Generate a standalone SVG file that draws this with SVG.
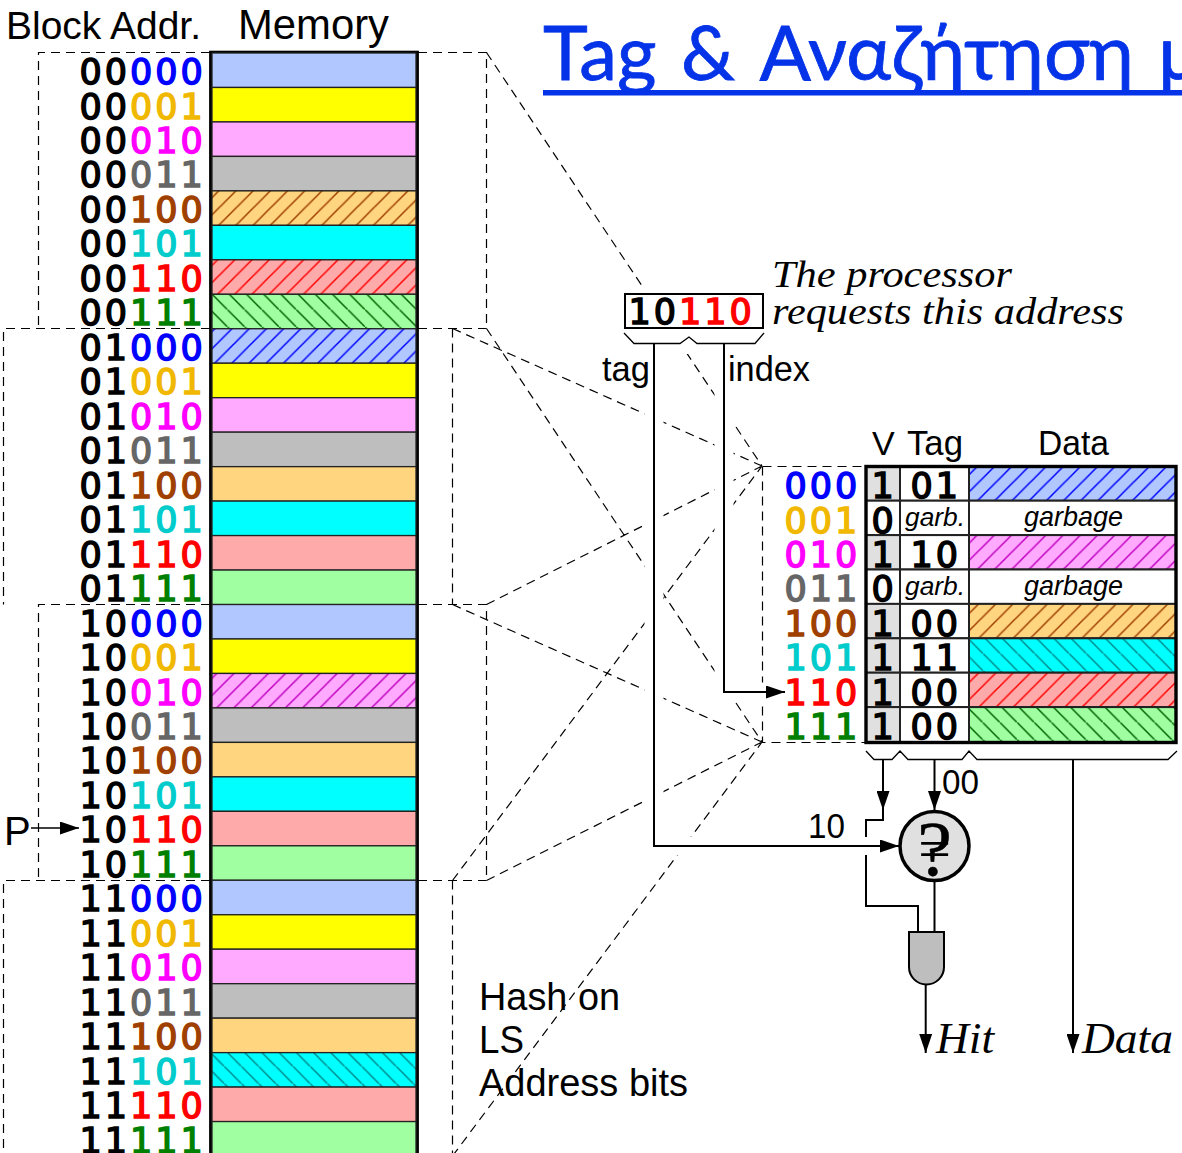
<svg xmlns="http://www.w3.org/2000/svg" width="1182" height="1153" viewBox="0 0 1182 1153">
<style>
.d{fill:none;stroke:#000;stroke-width:1.2;stroke-dasharray:9 6}
.h{fill:none;stroke:#fff;stroke-width:19}
.w{fill:none;stroke:#000;stroke-width:2}
.t{fill:none;stroke:#000;stroke-width:1.3}
.m{font-family:"DejaVu Sans",sans-serif;font-size:35px;letter-spacing:3px;fill:#000;stroke:#000;stroke-width:1.5px}
.s{font-family:"Liberation Sans",Arial,sans-serif;fill:#000}
.i{font-family:"Liberation Serif","Times New Roman",serif;font-style:italic;fill:#000}
.g{font-family:"Liberation Sans",Arial,sans-serif;font-style:italic;fill:#000}
.r{stroke:#222;stroke-width:1.3}
.q{stroke:#222;stroke-width:2}
.c0{fill:#00f;stroke:#00f}.c1{fill:#f0b800;stroke:#f0b800}.c2{fill:#f0f;stroke:#f0f}.c3{fill:#666;stroke:#666}.c4{fill:#a04000;stroke:#a04000}.c5{fill:#0cc;stroke:#0cc}.c6{fill:#f00;stroke:#f00}.c7{fill:#008000;stroke:#008000}
.f0{fill:#b0c8ff}.f1{fill:#ff0}.f2{fill:#faf}.f3{fill:#bebebe}.f4{fill:#ffd580}.f5{fill:#0ff}.f6{fill:#faa}.f7{fill:#a0ffa0}
</style>
<defs>
<marker id="a" markerUnits="userSpaceOnUse" markerWidth="19" markerHeight="13" refX="19" refY="6.5" orient="auto"><path d="M0 0L19 6.5L0 13Z" fill="#000"/></marker>
<path id="fw" d="M-1 1L1 -1M0 17.2L17.2 0M16.2 18.2L18.2 16.2"/>
<path id="bw" d="M-1 -1L1 1M0 0L17.2 17.2M16.2 16.2L18.2 18.2"/>
<pattern id="mo" patternUnits="userSpaceOnUse" width="17.2" height="17.2" patternTransform="translate(14 0)"><rect width="18" height="18" fill="#ffd580"/><use href="#fw" stroke="#a04000" stroke-width="1.5"/></pattern>
<pattern id="mr" patternUnits="userSpaceOnUse" width="17.2" height="17.2" patternTransform="translate(13 0)"><rect width="18" height="18" fill="#faa"/><use href="#fw" stroke="#f00" stroke-width="1.5"/></pattern>
<pattern id="mb" patternUnits="userSpaceOnUse" width="17.2" height="17.2" patternTransform="translate(10.3 0)"><rect width="18" height="18" fill="#b0c8ff"/><use href="#fw" stroke="#00f" stroke-width="1.5"/></pattern>
<pattern id="mm" patternUnits="userSpaceOnUse" width="17.2" height="17.2" patternTransform="translate(13 0)"><rect width="18" height="18" fill="#faf"/><use href="#fw" stroke="#c000c0" stroke-width="1.5"/></pattern>
<pattern id="mg" patternUnits="userSpaceOnUse" width="17.2" height="17.2" patternTransform="translate(3.8 0)"><rect width="18" height="18" fill="#a0ffa0"/><use href="#bw" stroke="#006400" stroke-width="1.5"/></pattern>
<pattern id="mc" patternUnits="userSpaceOnUse" width="17.2" height="17.2" patternTransform="translate(0.6 0)"><rect width="18" height="18" fill="#0ff"/><use href="#bw" stroke="#008b8b" stroke-width="1.5"/></pattern>
<pattern id="cb" patternUnits="userSpaceOnUse" width="17.2" height="17.2" patternTransform="translate(16.2 0)"><rect width="18" height="18" fill="#b0c8ff"/><use href="#fw" stroke="#00f" stroke-width="1.5"/></pattern>
<pattern id="cm" patternUnits="userSpaceOnUse" width="17.2" height="17.2" patternTransform="translate(15.9 0)"><rect width="18" height="18" fill="#faf"/><use href="#fw" stroke="#c000c0" stroke-width="1.5"/></pattern>
<pattern id="co" patternUnits="userSpaceOnUse" width="17.2" height="17.2" patternTransform="translate(0.2 0)"><rect width="18" height="18" fill="#ffd580"/><use href="#fw" stroke="#a04000" stroke-width="1.5"/></pattern>
<pattern id="cr" patternUnits="userSpaceOnUse" width="17.2" height="17.2" patternTransform="translate(0.4 0)"><rect width="18" height="18" fill="#faa"/><use href="#fw" stroke="#f00" stroke-width="1.5"/></pattern>
<pattern id="cc" patternUnits="userSpaceOnUse" width="17.2" height="17.2" patternTransform="translate(2.7 0)"><rect width="18" height="18" fill="#0ff"/><use href="#bw" stroke="#008b8b" stroke-width="1.5"/></pattern>
<pattern id="cg" patternUnits="userSpaceOnUse" width="17.2" height="17.2" patternTransform="translate(2.2 0)"><rect width="18" height="18" fill="#a0ffa0"/><use href="#bw" stroke="#006400" stroke-width="1.5"/></pattern>
</defs>
<rect width="1182" height="1153" fill="#fff"/>
<g id="title"><text x="543" y="80" font-family="Lato,'Noto Sans',sans-serif" font-size="76" word-spacing="5" fill="#0433e8" stroke="#0433e8" stroke-width="0.8">Tag &amp; Αναζήτηση μ</text><rect x="543" y="90" width="639" height="5.5" fill="#0433e8"/></g>
<g id="connectors">
<path class="d" d="M210 52.5H38.5V328.5M418 52.5H486.500V328.500M210 328.500H3.500V604.500M418 328.500H486.500M452.500 328.500V604.500M210 604.500H38.500V880.500M418 604.500H486.500V880.500M210 880.500H3.500V1153M418 880.500H486.500M452.500 880.500V1153"/>
<path class="d" d="M486.500 52.500L762 466M452.500 328.500L762 466M486.500 328.500L762 742M486.500 604.500L762 466M452.500 604.500L762 742M452.500 880.500L762 466M486.500 880.500L762 742M452.500 1156L762 742"/>
<path class="d" d="M762.500 466.500H865M762.500 466.500V742.500H865"/>
<rect x="615" y="286" width="157" height="68" fill="#fff"/>
<path class="h" d="M654 344V846H899M724 344V692H785"/>
<path class="w" d="M654 344V846H899" marker-end="url(#a)"/>
<path class="w" d="M724 344V692H785" marker-end="url(#a)"/>
<path class="t" d="M624 333L634 343.500H680L689 337L697 343.500H755L764 333"/>
<path class="t" d="M866 751L874 759.500H892L900 751L908 759.500H962L969 751L977 759.500H1168L1177 751"/>
<path class="w" d="M883 759V810" marker-end="url(#a)"/>
<path class="w" d="M883 808V820H866V837M866 855V906H918V932"/>
<path class="w" d="M934.500 759V810" marker-end="url(#a)"/>
<path class="w" d="M934.500 881V932"/>
<path class="w" d="M925.700 984V1053" marker-end="url(#a)"/>
<path class="w" d="M1073 759V1053" marker-end="url(#a)"/>
<path class="t" d="M31 828H79" marker-end="url(#a)"/>
</g>
<g id="memory">
<rect x="210.600" y="52.200" width="206.800" height="1110" fill="#fff" stroke="#000" stroke-width="3"/>
<rect class="r f0" x="212" y="53" width="204" height="34.470"/>
<rect class="r f1" x="212" y="87.470" width="204" height="34.470"/>
<rect class="r f2" x="212" y="121.940" width="204" height="34.470"/>
<rect class="r f3" x="212" y="156.410" width="204" height="34.470"/>
<rect class="r" fill="url(#mo)" x="212" y="190.880" width="204" height="34.470"/>
<rect class="r f5" x="212" y="225.350" width="204" height="34.470"/>
<rect class="r" fill="url(#mr)" x="212" y="259.820" width="204" height="34.470"/>
<rect class="r" fill="url(#mg)" x="212" y="294.290" width="204" height="34.470"/>
<rect class="r" fill="url(#mb)" x="212" y="328.760" width="204" height="34.470"/>
<rect class="r f1" x="212" y="363.230" width="204" height="34.470"/>
<rect class="r f2" x="212" y="397.700" width="204" height="34.470"/>
<rect class="r f3" x="212" y="432.170" width="204" height="34.470"/>
<rect class="r f4" x="212" y="466.640" width="204" height="34.470"/>
<rect class="r f5" x="212" y="501.110" width="204" height="34.470"/>
<rect class="r f6" x="212" y="535.580" width="204" height="34.470"/>
<rect class="r f7" x="212" y="570.050" width="204" height="34.470"/>
<rect class="r f0" x="212" y="604.520" width="204" height="34.470"/>
<rect class="r f1" x="212" y="638.990" width="204" height="34.470"/>
<rect class="r" fill="url(#mm)" x="212" y="673.460" width="204" height="34.470"/>
<rect class="r f3" x="212" y="707.930" width="204" height="34.470"/>
<rect class="r f4" x="212" y="742.400" width="204" height="34.470"/>
<rect class="r f5" x="212" y="776.870" width="204" height="34.470"/>
<rect class="r f6" x="212" y="811.340" width="204" height="34.470"/>
<rect class="r f7" x="212" y="845.810" width="204" height="34.470"/>
<rect class="r f0" x="212" y="880.280" width="204" height="34.470"/>
<rect class="r f1" x="212" y="914.750" width="204" height="34.470"/>
<rect class="r f2" x="212" y="949.220" width="204" height="34.470"/>
<rect class="r f3" x="212" y="983.690" width="204" height="34.470"/>
<rect class="r f4" x="212" y="1018.160" width="204" height="34.470"/>
<rect class="r" fill="url(#mc)" x="212" y="1052.630" width="204" height="34.470"/>
<rect class="r f6" x="212" y="1087.100" width="204" height="34.470"/>
<rect class="r f7" x="212" y="1121.570" width="204" height="34.470"/>
</g>
<g id="block-addresses" transform="translate(0 1)">
<text class="m" x="79.500" y="83">00<tspan class="c0">000</tspan></text>
<text class="m" x="79.500" y="117.500">00<tspan class="c1">001</tspan></text>
<text class="m" x="79.500" y="151.900">00<tspan class="c2">010</tspan></text>
<text class="m" x="79.500" y="186.400">00<tspan class="c3">011</tspan></text>
<text class="m" x="79.500" y="220.900">00<tspan class="c4">100</tspan></text>
<text class="m" x="79.500" y="255.400">00<tspan class="c5">101</tspan></text>
<text class="m" x="79.500" y="289.800">00<tspan class="c6">110</tspan></text>
<text class="m" x="79.500" y="324.300">00<tspan class="c7">111</tspan></text>
<text class="m" x="79.500" y="358.800">01<tspan class="c0">000</tspan></text>
<text class="m" x="79.500" y="393.200">01<tspan class="c1">001</tspan></text>
<text class="m" x="79.500" y="427.700">01<tspan class="c2">010</tspan></text>
<text class="m" x="79.500" y="462.200">01<tspan class="c3">011</tspan></text>
<text class="m" x="79.500" y="496.600">01<tspan class="c4">100</tspan></text>
<text class="m" x="79.500" y="531.100">01<tspan class="c5">101</tspan></text>
<text class="m" x="79.500" y="565.600">01<tspan class="c6">110</tspan></text>
<text class="m" x="79.500" y="600.100">01<tspan class="c7">111</tspan></text>
<text class="m" x="79.500" y="634.500">10<tspan class="c0">000</tspan></text>
<text class="m" x="79.500" y="669">10<tspan class="c1">001</tspan></text>
<text class="m" x="79.500" y="703.500">10<tspan class="c2">010</tspan></text>
<text class="m" x="79.500" y="737.900">10<tspan class="c3">011</tspan></text>
<text class="m" x="79.500" y="772.400">10<tspan class="c4">100</tspan></text>
<text class="m" x="79.500" y="806.900">10<tspan class="c5">101</tspan></text>
<text class="m" x="79.500" y="841.300">10<tspan class="c6">110</tspan></text>
<text class="m" x="79.500" y="875.800">10<tspan class="c7">111</tspan></text>
<text class="m" x="79.500" y="910.300">11<tspan class="c0">000</tspan></text>
<text class="m" x="79.500" y="944.800">11<tspan class="c1">001</tspan></text>
<text class="m" x="79.500" y="979.200">11<tspan class="c2">010</tspan></text>
<text class="m" x="79.500" y="1013.700">11<tspan class="c3">011</tspan></text>
<text class="m" x="79.500" y="1048.200">11<tspan class="c4">100</tspan></text>
<text class="m" x="79.500" y="1082.600">11<tspan class="c5">101</tspan></text>
<text class="m" x="79.500" y="1117.100">11<tspan class="c6">110</tspan></text>
<text class="m" x="79.500" y="1151.600">11<tspan class="c7">111</tspan></text>
</g>
<g id="headings">
<text class="s" x="6" y="39" font-size="38" textLength="195" lengthAdjust="spacingAndGlyphs">Block Addr.</text>
<text class="s" x="238" y="39" font-size="42" textLength="151" lengthAdjust="spacingAndGlyphs">Memory</text>
<text class="s" x="4" y="845" font-size="40">P</text>
<text class="s" x="479" y="1010" font-size="38" textLength="141" lengthAdjust="spacingAndGlyphs">Hash on</text>
<text class="s" x="479" y="1053" font-size="38" textLength="45" lengthAdjust="spacingAndGlyphs">LS</text>
<text class="s" x="479" y="1096" font-size="38" textLength="209" lengthAdjust="spacingAndGlyphs">Address bits</text>
</g>
<g id="address">
<rect x="625" y="294" width="138" height="34" fill="#fff" stroke="#000" stroke-width="2"/>
<text class="m" x="628.500" y="324">10<tspan class="c6">110</tspan></text>
<text class="i" x="772" y="287" font-size="38" textLength="240" lengthAdjust="spacingAndGlyphs">The processor</text>
<text class="i" x="772" y="324" font-size="38" textLength="352" lengthAdjust="spacingAndGlyphs">requests this address</text>
<text class="s" x="602" y="381" font-size="35" textLength="48" lengthAdjust="spacingAndGlyphs">tag</text>
<text class="s" x="728" y="381" font-size="35" textLength="82" lengthAdjust="spacingAndGlyphs">index</text>
</g>
<g id="cache">
<text class="s" x="872" y="455" font-size="34">V</text>
<text class="s" x="907" y="455" font-size="35" textLength="56" lengthAdjust="spacingAndGlyphs">Tag</text>
<text class="s" x="1038" y="455" font-size="35" textLength="71" lengthAdjust="spacingAndGlyphs">Data</text>
<rect x="866" y="466.500" width="310" height="276" fill="#fff"/>
<rect class="q" fill="#e0e0e0" x="866" y="466.300" width="34" height="34.400"/>
<rect class="q" fill="#fff" x="866" y="500.700" width="34" height="34.400"/>
<rect class="q" fill="#e0e0e0" x="866" y="535.100" width="34" height="34.400"/>
<rect class="q" fill="#fff" x="866" y="569.500" width="34" height="34.400"/>
<rect class="q" fill="#e0e0e0" x="866" y="603.900" width="34" height="34.400"/>
<rect class="q" fill="#e0e0e0" x="866" y="638.300" width="34" height="34.400"/>
<rect class="q" fill="#e0e0e0" x="866" y="672.700" width="34" height="34.400"/>
<rect class="q" fill="#e0e0e0" x="866" y="707.100" width="34" height="35.400"/>
<rect class="q" fill="#fff" x="900" y="466.300" width="69" height="34.400"/>
<rect class="q" fill="#fff" x="900" y="500.700" width="69" height="34.400"/>
<rect class="q" fill="#fff" x="900" y="535.100" width="69" height="34.400"/>
<rect class="q" fill="#fff" x="900" y="569.500" width="69" height="34.400"/>
<rect class="q" fill="#fff" x="900" y="603.900" width="69" height="34.400"/>
<rect class="q" fill="#fff" x="900" y="638.300" width="69" height="34.400"/>
<rect class="q" fill="#fff" x="900" y="672.700" width="69" height="34.400"/>
<rect class="q" fill="#fff" x="900" y="707.100" width="69" height="35.400"/>
<rect class="q" fill="url(#cb)" x="969" y="466.300" width="207" height="34.400"/>
<rect class="q" fill="#fff" x="969" y="500.700" width="207" height="34.400"/>
<rect class="q" fill="url(#cm)" x="969" y="535.100" width="207" height="34.400"/>
<rect class="q" fill="#fff" x="969" y="569.500" width="207" height="34.400"/>
<rect class="q" fill="url(#co)" x="969" y="603.900" width="207" height="34.400"/>
<rect class="q" fill="url(#cc)" x="969" y="638.300" width="207" height="34.400"/>
<rect class="q" fill="url(#cr)" x="969" y="672.700" width="207" height="34.400"/>
<rect class="q" fill="url(#cg)" x="969" y="707.100" width="207" height="35.400"/>
<rect x="866" y="466.500" width="310" height="276" fill="none" stroke="#000" stroke-width="3.400"/>
<text class="m c0" x="784.500" y="498">000</text>
<text class="m c1" x="784.500" y="532.500">001</text>
<text class="m c2" x="784.500" y="567">010</text>
<text class="m c3" x="784.500" y="601.400">011</text>
<text class="m c4" x="784.500" y="635.900">100</text>
<text class="m c5" x="784.500" y="670.400">101</text>
<text class="m c6" x="784.500" y="704.800">110</text>
<text class="m c7" x="784.500" y="739.300">111</text>
<text class="m" x="871.500" y="498">1</text>
<text class="m" x="871.500" y="532.500">0</text>
<text class="m" x="871.500" y="567">1</text>
<text class="m" x="871.500" y="601.400">0</text>
<text class="m" x="871.500" y="635.900">1</text>
<text class="m" x="871.500" y="670.400">1</text>
<text class="m" x="871.500" y="704.800">1</text>
<text class="m" x="871.500" y="739.300">1</text>
<text class="m" x="910.500" y="498">01</text>
<text class="g" x="905" y="526" font-size="26" textLength="60" lengthAdjust="spacingAndGlyphs">garb.</text>
<text class="m" x="910.500" y="567">10</text>
<text class="g" x="905" y="595" font-size="26" textLength="60" lengthAdjust="spacingAndGlyphs">garb.</text>
<text class="m" x="910.500" y="635.900">00</text>
<text class="m" x="910.500" y="670.400">11</text>
<text class="m" x="910.500" y="704.800">00</text>
<text class="m" x="910.500" y="739.300">00</text>
<text class="g" x="1024" y="526" font-size="28" textLength="99" lengthAdjust="spacingAndGlyphs">garbage</text>
<text class="g" x="1024" y="595" font-size="28" textLength="99" lengthAdjust="spacingAndGlyphs">garbage</text>
</g>
<g id="comparator">
<circle cx="934.500" cy="846" r="34.500" fill="#e0e0e0" stroke="#000" stroke-width="3.500"/>
<text x="934.500" y="875" text-anchor="middle" font-family="'Liberation Serif',serif" font-size="78" fill="#000" stroke="#000" stroke-width="0.5">?</text>
<text x="934.500" y="868" text-anchor="middle" font-family="'Liberation Serif',serif" font-size="58" fill="#000">=</text>
</g>
<g id="and-gate"><path d="M909 932H944V967A17.500 17.500 0 0 1 909 967Z" fill="#bebebe" stroke="#000" stroke-width="2"/></g>
<g id="outputs">
<text class="s" x="942" y="794" font-size="35" textLength="37" lengthAdjust="spacingAndGlyphs">00</text>
<text class="s" x="808" y="838" font-size="35" textLength="37" lengthAdjust="spacingAndGlyphs">10</text>
<text class="i" x="936" y="1053" font-size="44" textLength="58" lengthAdjust="spacingAndGlyphs">Hit</text>
<text class="i" x="1082" y="1053" font-size="44" textLength="91" lengthAdjust="spacingAndGlyphs">Data</text>
</g>
</svg>
